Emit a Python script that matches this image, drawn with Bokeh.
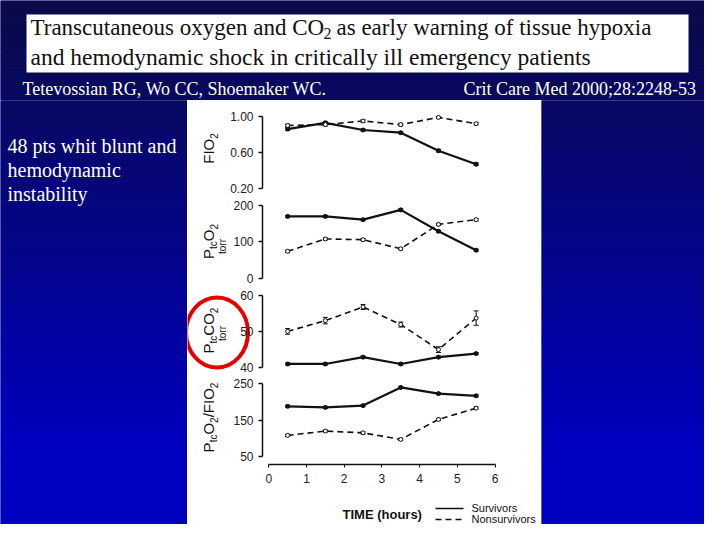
import numpy as np
from bokeh.plotting import figure
from bokeh.layouts import column, row
from bokeh.models import (Range1d, LinearAxis, FixedTicker, Whisker, TeeHead,
                          ColumnDataSource, NumeralTickFormatter)
from bokeh.core.properties import value
from bokeh.embed import file_html
from bokeh.resources import INLINE

# ---------------- data ----------------
time_h = [0.5, 1.5, 2.5, 3.5, 4.5, 5.5]
time_ticks = [0, 1, 2, 3, 4, 5, 6]

fio2_surv = [0.86, 0.93, 0.85, 0.82, 0.62, 0.47]
fio2_surv_err = [0.015, 0.015, 0.012, 0.012, 0.015, 0.015]
fio2_nonsurv = [0.90, 0.91, 0.95, 0.91, 0.99, 0.92]
fio2_nonsurv_err = [0.015, 0.015, 0.015, 0.015, 0.010, 0.012]

ptco2_surv = [170, 170, 161, 188, 129, 77]
ptco2_surv_err = [3, 3, 3, 3, 3, 3]
ptco2_nonsurv = [74, 108, 106, 81, 148, 161]
ptco2_nonsurv_err = [3, 3, 3, 3, 3, 3]

ptcco2_surv = [40.9, 40.9, 42.8, 40.9, 42.8, 43.8]
ptcco2_surv_err = [0.3, 0.3, 0.3, 0.3, 0.3, 0.3]
ptcco2_nonsurv = [50.0, 53.0, 56.8, 51.9, 44.9, 53.7]
ptcco2_nonsurv_err = [0.8, 0.9, 0.7, 0.7, 0.8, 2.0]

ratio_surv = [188, 185, 190, 240, 223, 217]
ratio_surv_err = [3, 3, 3, 3, 3, 3]
ratio_nonsurv = [108, 120, 115, 97, 152, 183]
ratio_nonsurv_err = [3, 3, 3, 3, 3, 3]

fio2_ticks = [0.20, 0.60, 1.00]
ptco2_ticks = [0, 100, 200]
ptcco2_ticks = [40, 50, 60]
ratio_ticks = [50, 150, 250]

title_1a = "Transcutaneous oxygen and CO"
title_1b = "2"
title_1c = "as early warning of tissue hypoxia"
title_2 = "and hemodynamic shock in critically ill emergency patients"
authors = "Tetevossian RG, Wo CC, Shoemaker WC."
citation = "Crit Care Med 2000;28:2248-53"
note_lines = ["48 pts whit blunt and", "hemodynamic", "instability"]
legend_labels = ["Survivors", "Nonsurvivors"]
x_title = "TIME (hours)"

SERIF = "Liberation Serif"
SANS = "Liberation Sans"
INK = "#111111"

# ---------------- background gradient helper ----------------
def gradient(p, x0, x1):
    ys = np.arange(0, 540, 3)
    t = np.clip(ys / 450.0, 0, 1)
    rg = np.round(10 * (1 - t)).astype(int)
    b = np.round(72 + 120 * t).astype(int)
    cols = ["#%02x%02x%02x" % (int(a), int(a), int(c)) for a, c in zip(rg, b)]
    p.quad(left=x0, right=x1, top=ys, bottom=ys + 4, fill_color=cols, line_color=None)


def deco_fig(w, h, xr, yr, bg="#000080"):
    p = figure(width=w, height=h, x_range=Range1d(*xr), y_range=Range1d(*yr),
               x_axis_type=None, y_axis_type=None, output_backend="svg",
               toolbar_location=None, min_border=0, outline_line_color=None,
               background_fill_color=bg, border_fill_color=bg)
    return p

# ---------------- top band ----------------
top = deco_fig(704, 100, (0, 704), (100, 0))
gradient(top, 0, 720)
top.quad(left=[26], right=[688], top=[14], bottom=[72], fill_color="white", line_color=None)
top.text(x=[30], y=[27], text=[title_1a], text_font=value(SERIF), text_font_size="23px",
         text_color=INK, text_baseline="middle")
top.text(x=[323], y=[33], text=[title_1b], text_font=value(SERIF), text_font_size="16px",
         text_color=INK, text_baseline="middle")
top.text(x=[336], y=[27], text=[title_1c], text_font=value(SERIF), text_font_size="23px",
         text_color=INK, text_baseline="middle")
top.text(x=[30], y=[56], text=[title_2], text_font=value(SERIF), text_font_size="23.5px",
         text_color=INK, text_baseline="middle")
top.text(x=[22], y=[88], text=[authors], text_font=value(SERIF), text_font_size="18px",
         text_color="white", text_baseline="middle")
top.text(x=[463], y=[88], text=[citation], text_font=value(SERIF), text_font_size="18px",
         text_color="white", text_baseline="middle")

# ---------------- left / right bands ----------------
left = deco_fig(187, 424, (0, 187), (524, 100))
gradient(left, 0, 187)
left.text(x=[7, 7, 7], y=[145, 169, 193], text=note_lines, text_font=value(SERIF),
          text_font_size="20px", text_color="white", text_baseline="middle")

right = deco_fig(163, 424, (541, 704), (524, 100))
gradient(right, 541, 720)

# ---------------- chart panels ----------------
PANEL_L, PANEL_R = 187, 541
AXIS_PX = 262
X0_PX, PX_PER_H = 268.3, 37.7
XS = (PANEL_L - X0_PX) / PX_PER_H
XE = (PANEL_R - X0_PX) / PX_PER_H

W = {"P": .667, "t": .278, "c": .5, "O": .778, "C": .722, "2": .556, "/": .278,
     "F": .611, "I": .278}


def make_panel(top_px, height, ref_a, ref_b, ticks, border_bottom=0, fmt=None):
    (va, pa), (vb, pb) = ref_a, ref_b
    k = (va - vb) / (pb - pa)
    frame_top = top_px
    frame_bot = top_px + height - border_bottom
    y_end = va + (pa - frame_top) * k
    y_start = va - (frame_bot - pa) * k
    p = figure(width=PANEL_R - PANEL_L, height=height, x_range=Range1d(XS, XE),
               y_range=Range1d(y_start, y_end), x_axis_type=None,
               output_backend="svg", toolbar_location=None,
               min_border_left=0, min_border_right=0,
               min_border_top=0, min_border_bottom=border_bottom,
               outline_line_color=None, background_fill_color="white",
               border_fill_color="white")
    p.grid.grid_line_color = None
    ax = p.yaxis[0]
    ax.fixed_location = (AXIS_PX - X0_PX) / PX_PER_H
    ax.ticker = FixedTicker(ticks=ticks)
    ax.bounds = (min(ticks), max(ticks))
    if fmt:
        ax.formatter = NumeralTickFormatter(format=fmt)
    ax.major_tick_out = 4
    ax.major_tick_in = 0
    ax.minor_tick_line_color = None
    ax.axis_line_width = 1.5
    ax.axis_line_color = INK
    ax.major_tick_line_color = INK
    ax.major_tick_line_width = 1.5
    ax.major_label_standoff = 5
    ax.major_label_text_font = SANS
    ax.major_label_text_font_size = "12px"
    ax.major_label_text_color = "#222222"

    def to_data(px, py):
        return XS + (px - PANEL_L) / PX_PER_H, y_start + (frame_bot - py) * k
    return p, to_data, k


def add_series(p, ys, errs, dashed):
    src = ColumnDataSource(dict(x=time_h, y=ys,
                                lo=[v - e for v, e in zip(ys, errs)],
                                hi=[v + e for v, e in zip(ys, errs)]))
    if dashed:
        p.line("x", "y", source=src, line_color=INK, line_width=1.6, line_dash="6 4")
        p.scatter("x", "y", source=src, size=4, marker="circle", fill_color="white",
                  line_color=INK, line_width=1)
    else:
        p.line("x", "y", source=src, line_color=INK, line_width=2.2)
        p.scatter("x", "y", source=src, size=4, marker="circle", fill_color=INK,
                  line_color=INK)
    p.add_layout(Whisker(base="x", upper="hi", lower="lo", source=src, line_color=INK,
                         line_width=1,
                         upper_head=TeeHead(size=5, line_color=INK, line_width=1),
                         lower_head=TeeHead(size=5, line_color=INK, line_width=1)))


def vlabel(p, conv, pieces, cy, torr_cy=None):
    widths = []
    for txt, sub in pieces:
        size = 10 if sub else 15
        widths.append(sum(W[ch] for ch in txt) * size)
    y = cy + sum(widths) / 2.0
    for (txt, sub), w in zip(pieces, widths):
        px = 213 if sub else 208
        dx, dy = conv(px, y)
        p.text(x=[dx], y=[dy], text=[txt], angle=np.pi / 2, text_align="left",
               text_baseline="middle", text_font=value(SANS),
               text_font_size="10px" if sub else "15px", text_color=INK)
        y -= w
    if torr_cy is not None:
        dx, dy = conv(222, torr_cy)
        p.text(x=[dx], y=[dy], text=["torr"], angle=np.pi / 2, text_align="center",
               text_baseline="middle", text_font=value(SANS),
               text_font_size="10px", text_color=INK)


p1, c1, k1 = make_panel(100, 96, (1.00, 116), (0.20, 188), fio2_ticks, fmt="0.00")
add_series(p1, fio2_surv, fio2_surv_err, False)
add_series(p1, fio2_nonsurv, fio2_nonsurv_err, True)
vlabel(p1, c1, [("F", False), ("I", False), ("O", False), ("2", True)], 148)

p2, c2, k2 = make_panel(196, 89, (200, 205), (0, 277.7), ptco2_ticks)
add_series(p2, ptco2_surv, ptco2_surv_err, False)
add_series(p2, ptco2_nonsurv, ptco2_nonsurv_err, True)
vlabel(p2, c2, [("P", False), ("tc", True), ("O", False), ("2", True)], 241, 246)

p3, c3, k3 = make_panel(285, 89, (60, 295), (40, 366.7), ptcco2_ticks)
add_series(p3, ptcco2_surv, ptcco2_surv_err, False)
add_series(p3, ptcco2_nonsurv, ptcco2_nonsurv_err, True)
vlabel(p3, c3, [("P", False), ("tc", True), ("C", False), ("O", False), ("2", True)], 330, 333)
ccx, ccy = c3(216.5, 332)
p3.ellipse(x=[ccx], y=[ccy], width=[62 / PX_PER_H], height=[70 * k3],
           fill_color=None, line_color="#e60000", line_width=4)

p4, c4, k4 = make_panel(374, 116, (250, 383.3), (50, 456), ratio_ticks, border_bottom=26)
add_series(p4, ratio_surv, ratio_surv_err, False)
add_series(p4, ratio_nonsurv, ratio_nonsurv_err, True)
vlabel(p4, c4, [("P", False), ("tc", True), ("O", False), ("2", True), ("/", False),
                ("F", False), ("I", False), ("O", False), ("2", True)], 417)
xa = LinearAxis(ticker=FixedTicker(ticks=time_ticks), bounds=(0, 6))
xa.major_tick_out = 3
xa.major_tick_in = 0
xa.minor_tick_line_color = None
xa.axis_line_width = 1.5
xa.axis_line_color = INK
xa.major_tick_line_color = INK
xa.major_label_standoff = 6
xa.major_label_text_font = SANS
xa.major_label_text_font_size = "12px"
xa.major_label_text_color = "#222222"
p4.add_layout(xa, "below")

# bottom strip: axis title and key
p5 = deco_fig(PANEL_R - PANEL_L, 34, (PANEL_L, PANEL_R), (524, 490), bg="white")
p5.text(x=[342], y=[514], text=[x_title], text_font=value(SANS), text_font_style="bold",
        text_font_size="13px", text_color=INK, text_baseline="middle")
p5.line([435, 463], [508, 508], line_color=INK, line_width=1.5)
p5.line([435, 463], [519, 519], line_color=INK, line_width=1.5, line_dash="6 4")
p5.text(x=[471, 471], y=[507, 518], text=legend_labels, text_font=value(SANS),
        text_font_size="11px", text_color=INK, text_baseline="middle")

mid = column(p1, p2, p3, p4, p5, spacing=0)
layout = column(top, row(left, mid, right, spacing=0), spacing=0)

open("out.html", "w").write(file_html(layout, INLINE))
